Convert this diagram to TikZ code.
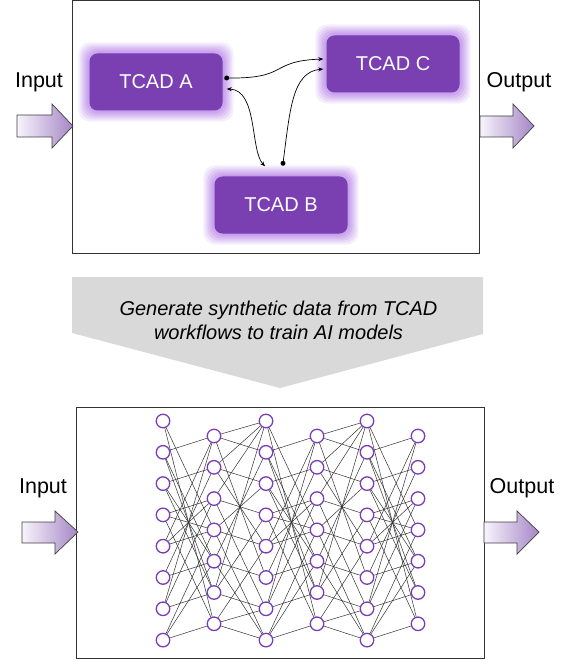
\documentclass[tikz,border=0pt]{standalone}
\usepackage{fontspec}
\setmainfont{Liberation Sans}
\usetikzlibrary{arrows.meta,backgrounds}
\definecolor{tpurple}{HTML}{7A40B2}
\definecolor{glowc}{HTML}{B98AEA}
\definecolor{npurple}{HTML}{7A3DB8}
\definecolor{arrL}{HTML}{F8F4FC}
\definecolor{arrR}{HTML}{A586C6}
\definecolor{band}{HTML}{D9D9D9}
\begin{document}
\begin{tikzpicture}[x=1pt,y=-1pt,
  tbox/.style={fill=tpurple,rounded corners=8pt,minimum width=133pt,minimum height=57pt,text=white,font=\fontsize{20}{24}\selectfont,inner sep=0pt},
  lbl/.style={font=\fontsize{21.5}{26}\selectfont,inner sep=0pt},
  nn/.style={circle,draw=npurple,line width=1.3pt,minimum size=13.5pt,inner sep=0pt,fill=white},
  nedge/.style={draw=black!80,line width=0.5pt},
  conn/.style={line width=0.7pt,-{Stealth[length=5pt,width=4pt]}},
  dotn/.style={circle,fill=black,inner sep=0pt,minimum size=5pt},
  frame/.style={draw=black!80,line width=0.9pt},
  io/.style={draw=black!75,line width=0.7pt,left color=arrL,right color=arrR},
]
\path[use as bounding box] (0,0) rectangle (570,660);
\begin{scope}[on background layer]
  \fill[white] (0,0) rectangle (570,660);
\end{scope}

% ---------- top panel ----------
\draw[frame] (72,0.5) rectangle (479,253);
\node[tbox] (A) at (156,82) {TCAD A};
\node[tbox] (C) at (393,64) {TCAD C};
\node[tbox] (B) at (281,205) {TCAD B};
\begin{scope}[on background layer]
  \foreach \n in {A,B,C}{
    \foreach \d/\o in {11/0.14,9/0.18,7/0.22,5/0.28,3/0.34,1/0.4}{
      \fill[glowc,opacity=\o,rounded corners=12pt]
        ([shift={(-\d pt,\d pt)}]\n.north west) rectangle ([shift={(\d pt,-\d pt)}]\n.south east);
    }
  }
\end{scope}

\coordinate (adot) at ([shift={(4pt,4pt)}]A.east);
\coordinate (ain)  at ([shift={(4pt,-7pt)}]A.east);
\coordinate (cin1) at ([shift={(-3pt,5pt)}]C.west);
\coordinate (cin2) at ([shift={(-3pt,-5pt)}]C.west);
\coordinate (bdot) at ([shift={(2pt,13pt)}]B.north);
\coordinate (bin)  at ([shift={(-16pt,10pt)}]B.north);
\draw[conn] (adot) .. controls (290,79) and (268,61) .. (cin1);
\draw[conn] (bdot) .. controls (290,110) and (292,72) .. (cin2);
\draw[line width=0.7pt,{Stealth[length=5pt,width=4pt]}-{Stealth[length=5pt,width=4pt]}] (ain) .. controls (258,90) and (250,150) .. (bin);
\node[dotn] (d1) at (adot) {};
\node[dotn] (d2) at (bdot) {};

\node[lbl] (in1) at (39,82) {Input};
\node[lbl] (out1) at (519,82) {Output};
\draw[io] (17,115) -- (52,115) -- (52,104) -- (73,126) -- (52,148) -- (52,137) -- (17,137) -- cycle;
\draw[io] (480,116) -- (513,116) -- (513,104) -- (534,126) -- (513,148) -- (513,137) -- (480,137) -- cycle;

% ---------- middle band ----------
\fill[band] (72,277) -- (483,277) -- (483,334) -- (280,388) -- (72,333) -- cycle;
\node[font=\fontsize{20}{24}\selectfont\itshape,align=center,inner sep=0pt] (gen) at (278.5,320)
  {Generate synthetic data from TCAD\\workflows to train AI models};

% ---------- bottom panel ----------
\draw[frame] (76,407) rectangle (484,658.5);
\node[lbl] (in2) at (43,488) {Input};
\node[lbl] (out2) at (522,488) {Output};
\draw[io] (22,522) -- (55,522) -- (55,511) -- (78,532) -- (55,554) -- (55,543) -- (22,543) -- cycle;
\draw[io] (484,522) -- (517,522) -- (517,511) -- (539,532) -- (517,554) -- (517,543) -- (484,543) -- cycle;

\foreach \c/\x in {1/163,3/266,5/367}
  \foreach \i in {0,...,7}
    \node[nn] (n\c-\i) at (\x,{421+31.3*\i}) {};
\foreach \c/\x in {2/214,4/317,6/418}
  \foreach \i in {0,...,6}
    \node[nn] (n\c-\i) at (\x,{436+31.3*\i}) {};

\begin{scope}[on background layer]
  \foreach \a/\b in {1/2,3/4,5/6}
    \foreach \i/\j in {0/6,0/3,1/5,1/0,1/4,2/4,2/1,2/5,3/3,3/2,3/6,4/2,4/3,4/0,5/1,5/4,6/0,6/5,6/2,7/6,7/3,7/4}
      \draw[nedge] (n\a-\i) -- (n\b-\j);
  \foreach \a/\b in {2/3,4/5}
    \foreach \i/\j in {0/0,0/1,0/5,1/2,1/4,1/0,2/3,2/0,2/6,3/2,3/4,3/7,4/1,4/5,4/7,5/0,5/6,5/3,6/7,6/4,6/6}
      \draw[nedge] (n\a-\i) -- (n\b-\j);
\end{scope}
\end{tikzpicture}
\end{document}
